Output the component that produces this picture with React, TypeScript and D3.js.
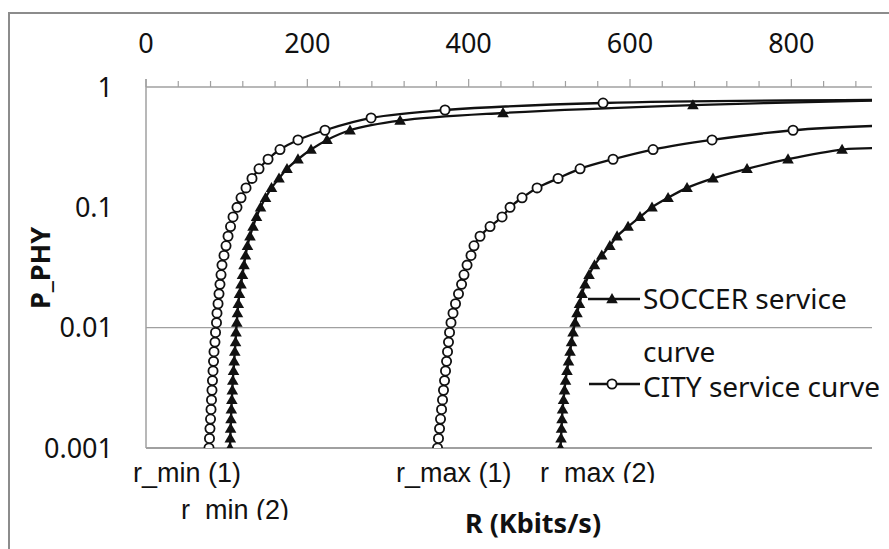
import React from "react";
import * as d3 from "d3";

// Shared lower marker levels of P_PHY (~0.08 decade apart)
const P_LOW = [
  0.001, 0.0012, 0.00145, 0.00174, 0.00209, 0.00251, 0.00302, 0.00363, 0.00437, 0.00525,
  0.00631, 0.00759, 0.00912, 0.011, 0.0132, 0.0158, 0.0191, 0.0229, 0.0275, 0.0331,
  0.0398, 0.0479, 0.0575, 0.0692, 0.0832, 0.1, 0.12, 0.145, 0.174, 0.209,
  0.251, 0.302,
];
// Upper marker levels, per curve
const CITY_MIN_P_TOP = [0.363, 0.437, 0.553, 0.644, 0.736];
const SOCCER_MIN_P_TOP = [0.363, 0.437, 0.525, 0.608, 0.708];
const CITY_MAX_P_TOP = [0.363, 0.437];
const SOCCER_MAX_P_TOP: number[] = [];

// R (Kbits/s) at each marker
const CITY_MIN_R = [
  78.1, 78.7, 79.3, 80.0, 80.6, 81.2, 81.8, 82.4, 83.1, 83.7,
  84.3, 85.5, 86.2, 87.4, 88.0, 89.3, 90.5, 91.7, 93.0, 94.2,
  96.7, 99.2, 101.7, 104.8, 107.9, 112.8, 117.8, 124.0, 131.4, 140.1,
  151.3, 166.1, 188.4, 221.9, 279.0, 370.7, 566.6,
];
const SOCCER_MIN_R = [
  104.1, 104.5, 104.9, 105.4, 105.8, 106.4, 107.0, 107.6, 108.5, 109.3,
  110.1, 111.0, 111.6, 112.6, 113.4, 114.4, 115.9, 117.8, 119.6, 121.5,
  123.4, 125.8, 128.9, 132.7, 137.0, 142.0, 148.2, 155.6, 164.9, 174.8,
  188.4, 204.6, 224.4, 252.9, 315.0, 442.6, 678.0,
];
const CITY_MAX_R = [
  361.4, 362.6, 363.9, 365.1, 366.4, 367.6, 368.8, 370.1, 371.3, 372.6,
  373.8, 375.0, 376.3, 378.1, 380.6, 383.7, 387.4, 391.2, 394.2, 398.0,
  402.9, 406.6, 414.1, 426.5, 441.4, 451.3, 466.2, 484.8, 510.8, 538.1,
  579.0, 628.6, 701.7, 802.1,
];
const SOCCER_MAX_R = [
  513.8, 514.5, 515.1, 515.7, 516.4, 517.6, 518.8, 520.1, 521.9, 523.8,
  525.7, 527.5, 529.4, 531.9, 534.3, 537.4, 540.5, 544.3, 549.2, 556.0,
  565.0, 575.0, 584.0, 597.6, 612.4, 627.3, 647.2, 670.7, 702.9, 745.1,
  795.9, 862.9,
];
// value of each curve where it leaves the plot (R = 900)
const END_R = 900;
const CITY_MIN_END = 0.78;
const SOCCER_MIN_END = 0.77;
const CITY_MAX_END = 0.474;
const SOCCER_MAX_END = 0.31;

const X_TICKS = [0, 200, 400, 600, 800];
const X_MINOR = d3.range(0, 900, 40);
const Y_TICKS = [1, 0.1, 0.01, 0.001];
const Y_LABELS = ["1", "0.1", "0.01", "0.001"];

type Pt = { r: number; p: number };
const build = (rs: number[], top: number[]): Pt[] => {
  const ps = [...P_LOW, ...top];
  return rs.map((r, i) => ({ r, p: ps[i] }));
};

const series = [
  { name: "cityMin", pts: build(CITY_MIN_R, CITY_MIN_P_TOP), end: CITY_MIN_END, marker: "circle" },
  { name: "soccerMin", pts: build(SOCCER_MIN_R, SOCCER_MIN_P_TOP), end: SOCCER_MIN_END, marker: "triangle" },
  { name: "cityMax", pts: build(CITY_MAX_R, CITY_MAX_P_TOP), end: CITY_MAX_END, marker: "circle" },
  { name: "soccerMax", pts: build(SOCCER_MAX_R, SOCCER_MAX_P_TOP), end: SOCCER_MAX_END, marker: "triangle" },
];

const W = 889;
const H = 549;
const x = d3.scaleLinear().domain([0, 900]).range([146, 872]);
const y = d3.scaleLog().domain([0.001, 1]).range([448, 87]);

const line = d3
  .line<Pt>()
  .x((d) => x(d.r))
  .y((d) => y(d.p))
  .curve(d3.curveCatmullRom.alpha(0.5));

const tri = d3.symbol().type(d3.symbolTriangle).size(58)() as string;

const FONT = "'Noto Sans', 'Open Sans', sans-serif";
const ARIAL = "'Liberation Sans', Arial, sans-serif";
const AXIS = "#a0a0a0";

function Marker({ kind, cx, cy }: { kind: string; cx: number; cy: number }) {
  if (kind === "circle")
    return <circle cx={cx} cy={cy} r={4.6} fill="#fff" stroke="#111" strokeWidth={1.8} />;
  return <path d={tri} transform={`translate(${cx},${cy + 0.8})`} fill="#111" />;
}

export default function App() {
  return (
    <svg
      width={W}
      height={H}
      style={{ position: "absolute", left: 0, top: 0, background: "#fff" }}
      xmlns="http://www.w3.org/2000/svg"
    >
      <defs>
        <clipPath id="plot">
          <rect x={x(0) - 6} y={y(1) - 6} width={x(900) - x(0) + 6} height={y(0.001) - y(1) + 6} />
        </clipPath>
        <clipPath id="clipMin2">
          <rect x={150} y={480} width={200} height={40} />
        </clipPath>
        <clipPath id="clipMax2">
          <rect x={520} y={450} width={200} height={33} />
        </clipPath>
      </defs>
      <rect x={0} y={0} width={W} height={H} fill="#fff" />
      {/* outer frame */}
      <rect x={9} y={13} width={W + 20} height={H + 20} fill="none" stroke="#8c8c8c" strokeWidth={2} />

      {/* gridline 0.01 */}
      <line x1={x(0)} x2={x(900)} y1={y(0.01)} y2={y(0.01)} stroke={AXIS} strokeWidth={1.3} />
      {/* axes */}
      <line x1={x(0)} x2={x(900)} y1={y(1)} y2={y(1)} stroke={AXIS} strokeWidth={1.5} />
      <line x1={x(0)} x2={x(900)} y1={y(0.001)} y2={y(0.001)} stroke={AXIS} strokeWidth={2} />
      <line x1={x(0)} x2={x(0)} y1={y(1) - 8} y2={y(0.001)} stroke={AXIS} strokeWidth={1.5} />
      {X_MINOR.map((v) => (
        <line key={v} x1={x(v)} x2={x(v)} y1={y(1)} y2={y(1) - (v % 200 === 0 ? 8 : 6)} stroke={AXIS} strokeWidth={1.2} />
      ))}
      {X_TICKS.map((v) => (
        <text key={v} x={x(v)} y={53} fontFamily={FONT} fontSize={27} textAnchor="middle" fill="#111">
          {v}
        </text>
      ))}
      {Y_TICKS.map((v, i) => (
        <text key={v} x={113} y={y(v) + 9.5} fontFamily={FONT} fontSize={27} textAnchor="end" fill="#111">
          {Y_LABELS[i]}
        </text>
      ))}

      {/* curves */}
      <g clipPath="url(#plot)">
        {series.map((s) => (
          <path
            key={s.name}
            d={line([...s.pts, { r: END_R, p: s.end }]) || ""}
            fill="none"
            stroke="#111"
            strokeWidth={2.3}
          />
        ))}
        {series.map((s) =>
          s.pts.map((d, i) => <Marker key={s.name + i} kind={s.marker} cx={x(d.r)} cy={y(d.p)} />)
        )}
      </g>

      {/* legend */}
      <line x1={588} x2={640} y1={299} y2={299} stroke="#111" strokeWidth={2.3} />
      <Marker kind="triangle" cx={612} cy={299} />
      <text x={643} y={309} fontFamily={FONT} fontSize={28} fill="#111">SOCCER service</text>
      <text x={643} y={362} fontFamily={FONT} fontSize={28} fill="#111">curve</text>
      <line x1={589} x2={640} y1={384} y2={384} stroke="#111" strokeWidth={2.3} />
      <Marker kind="circle" cx={612} cy={384} />
      <text x={643} y={397} fontFamily={FONT} fontSize={28} fill="#111">CITY service curve</text>

      {/* axis titles */}
      <text
        transform="translate(50,268) rotate(-90)"
        fontFamily={FONT}
        fontSize={27}
        fontWeight="bold"
        textAnchor="middle"
        fill="#111"
      >
        P_PHY
      </text>
      <text x={533} y={533} fontFamily={FONT} fontSize={27} fontWeight="bold" textAnchor="middle" fill="#111">
        R (Kbits/s)
      </text>

      {/* r_min / r_max annotations */}
      <text x={133} y={482} fontFamily={ARIAL} fontSize={27} fill="#111">r_min (1)</text>
      <g clipPath="url(#clipMin2)">
        <text x={181} y={519} fontFamily={ARIAL} fontSize={27} fill="#111">r_min (2)</text>
      </g>
      <text x={396} y={482} fontFamily={ARIAL} fontSize={27} fill="#111">r_max (1)</text>
      <g clipPath="url(#clipMax2)">
        <text x={540} y={482} fontFamily={ARIAL} fontSize={27} fill="#111">r_max (2)</text>
      </g>
    </svg>
  );
}
